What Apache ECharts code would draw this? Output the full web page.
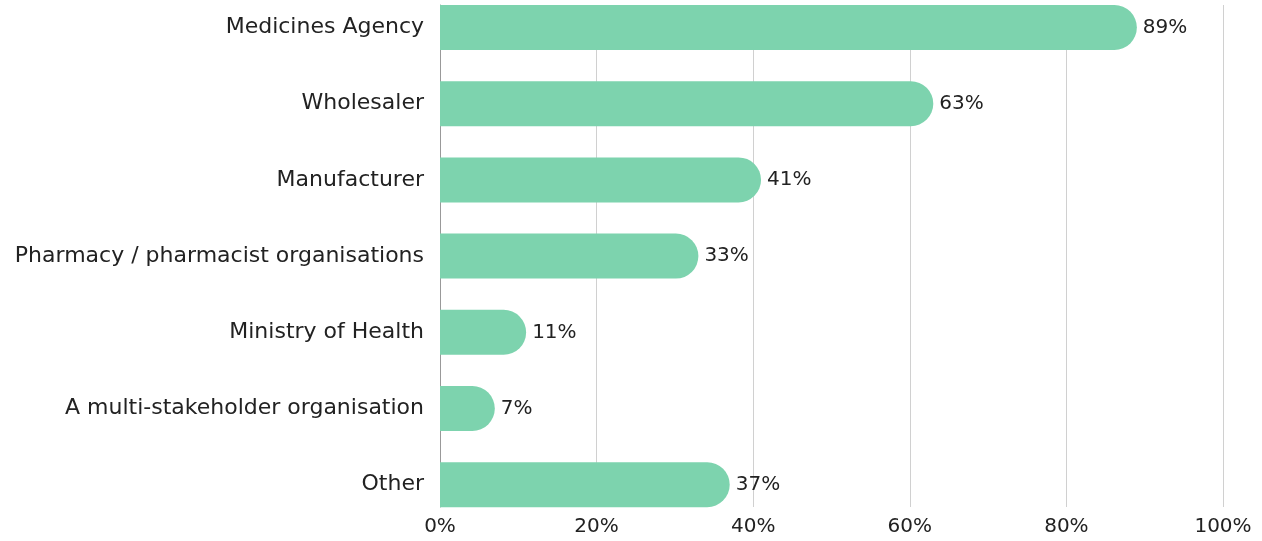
<!DOCTYPE html>
<html>
<head>
<meta charset="utf-8">
<script src="https://cdn.jsdelivr.net/npm/echarts@6/dist/echarts.min.js"></script>
<style>
  html, body { margin: 0; padding: 0; background: #fff; }
  #chart { width: 1262px; height: 541px; }
</style>
</head>
<body>
<div id="chart"></div>
<script>
const categories = [
    'Medicines Agency',
    'Wholesaler',
    'Manufacturer',
    'Pharmacy / pharmacist organisations',
    'Ministry of Health',
    'A multi-stakeholder organisation',
    'Other'
];
const shares = [89, 63, 41, 33, 11, 7, 37];
const xTicks = [0, 20, 40, 60, 80, 100];

const fontName = 'DejaVu Sans';
const textColor = '#222';

const chart = echarts.init(document.getElementById('chart'));
const option = {
    animation: false,
    grid: [
        // grid lines and axes
        { left: 440, right: 39, top: 5, bottom: 34 },
        // bars: first/last category sit on the grid edges
        { left: 440, right: 39, top: 27.5, bottom: 56.3 }
    ],
    xAxis: [{
        gridIndex: 0,
        type: 'value',
        min: xTicks[0],
        max: xTicks[xTicks.length - 1],
        interval: 20,
        axisLine: { show: false },
        axisTick: { show: false },
        axisLabel: {
            formatter: '{value}%',
            color: textColor,
            fontFamily: fontName,
            fontSize: 20,
            margin: 10
        },
        splitLine: { lineStyle: { color: '#d0d0d0', width: 1 } }
    }, {
        gridIndex: 1,
        type: 'value',
        min: 0,
        max: 100,
        show: false
    }],
    yAxis: [{
        gridIndex: 0,
        type: 'category',
        inverse: true,
        data: categories,
        axisLine: { show: true, lineStyle: { color: '#999', width: 1 } },
        axisTick: { show: false },
        axisLabel: { show: false }
    }, {
        gridIndex: 1,
        type: 'category',
        inverse: true,
        boundaryGap: false,
        data: categories,
        axisLine: { show: false },
        axisTick: { show: false },
        axisLabel: {
            color: textColor,
            fontFamily: fontName,
            fontSize: 22,
            margin: 16
        }
    }],
    series: [{
        type: 'bar',
        xAxisIndex: 1,
        yAxisIndex: 1,
        data: shares,
        barWidth: 45,
        itemStyle: {
            color: '#7dd3ae',
            borderRadius: [0, 23, 23, 0]
        },
        label: {
            show: true,
            position: 'right',
            distance: 6,
            formatter: '{c}%',
            color: textColor,
            fontFamily: fontName,
            fontSize: 20
        }
    }]
};
chart.setOption(option);
</script>
</body>
</html>
